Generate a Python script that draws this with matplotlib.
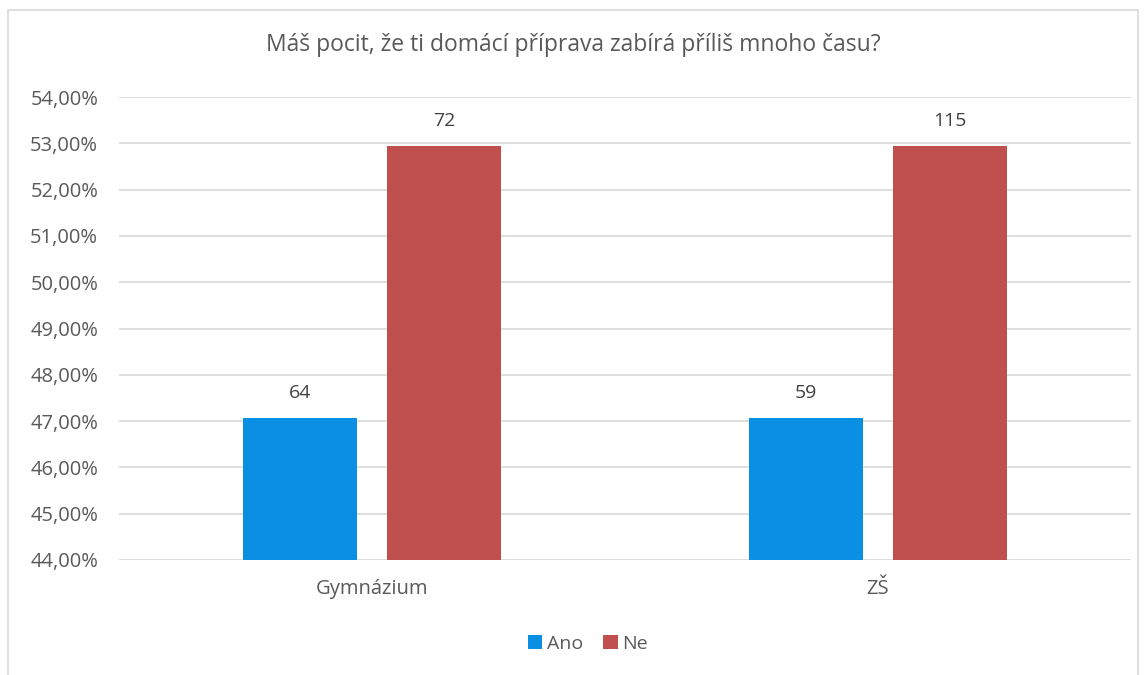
import matplotlib
matplotlib.use("Agg")
import matplotlib.pyplot as plt
from matplotlib.patches import Rectangle
import numpy as np

categories = ["Gymnázium", "ZŠ"]
series_names = ["Ano", "Ne"]
ano_pct = [47.06, 47.06]
ne_pct = [52.94, 52.94]
ano_counts = [64, 59]
ne_counts = [72, 115]
yticks = [44, 45, 46, 47, 48, 49, 50, 51, 52, 53, 54]

plt.rcParams['font.family'] = ['Open Sans', 'DejaVu Sans']
txt = '#595959'

fig = plt.figure(figsize=(11.47, 6.75), dpi=100)
ax = fig.add_axes([119/1147, 1-560/675, (1131-119)/1147, (560-97)/675])

x = np.arange(len(categories))
w = 0.225
off = 0.142
b1 = ax.bar(x - off, ano_pct, w, color='#0a8fe2', label=series_names[0], zorder=3)
b2 = ax.bar(x + off, ne_pct, w, color='#c0504d', label=series_names[1], zorder=3)

for bars, counts in ((b1, ano_counts), (b2, ne_counts)):
    for r, c in zip(bars, counts):
        ax.annotate(str(c), (r.get_x() + r.get_width()/2, r.get_height()),
                    xytext=(0, 18), textcoords='offset points', ha='center', va='center',
                    fontsize=14, color='#404040')

ax.set_ylim(44, 54)
ax.set_xlim(-0.5, 1.5)
ax.set_yticks(yticks)
ax.set_yticklabels([f"{v:.2f}%".replace('.', ',') for v in yticks])
ax.set_xticks(x)
ax.set_xticklabels(categories)
ax.tick_params(axis='both', length=0, labelsize=14.5, colors=txt)
ax.tick_params(axis='y', pad=15)
ax.tick_params(axis='x', pad=14)
ax.grid(axis='y', color='#d9d9d9', linewidth=1.2, zorder=0)
for s in ax.spines.values():
    s.set_visible(False)

fig.text(0.5, 1-45/675, "Máš pocit, že ti domácí příprava zabírá příliš mnoho času?",
         ha='center', va='center', fontsize=16.5, color=txt)

fig.legend(handles=[b1, b2], loc='center', bbox_to_anchor=(588/1147, 1-644/675), ncol=2,
           frameon=False, fontsize=14, handlelength=0.75, handleheight=0.75,
           handletextpad=0.25, columnspacing=1.0, labelcolor=txt)

fig.patches.append(Rectangle((8/1147, -0.05), (1138-8)/1147, 1.05-10/675,
                             transform=fig.transFigure, fill=False,
                             edgecolor='#d9d9d9', linewidth=1.2))

fig.savefig("out.png", dpi=100)
